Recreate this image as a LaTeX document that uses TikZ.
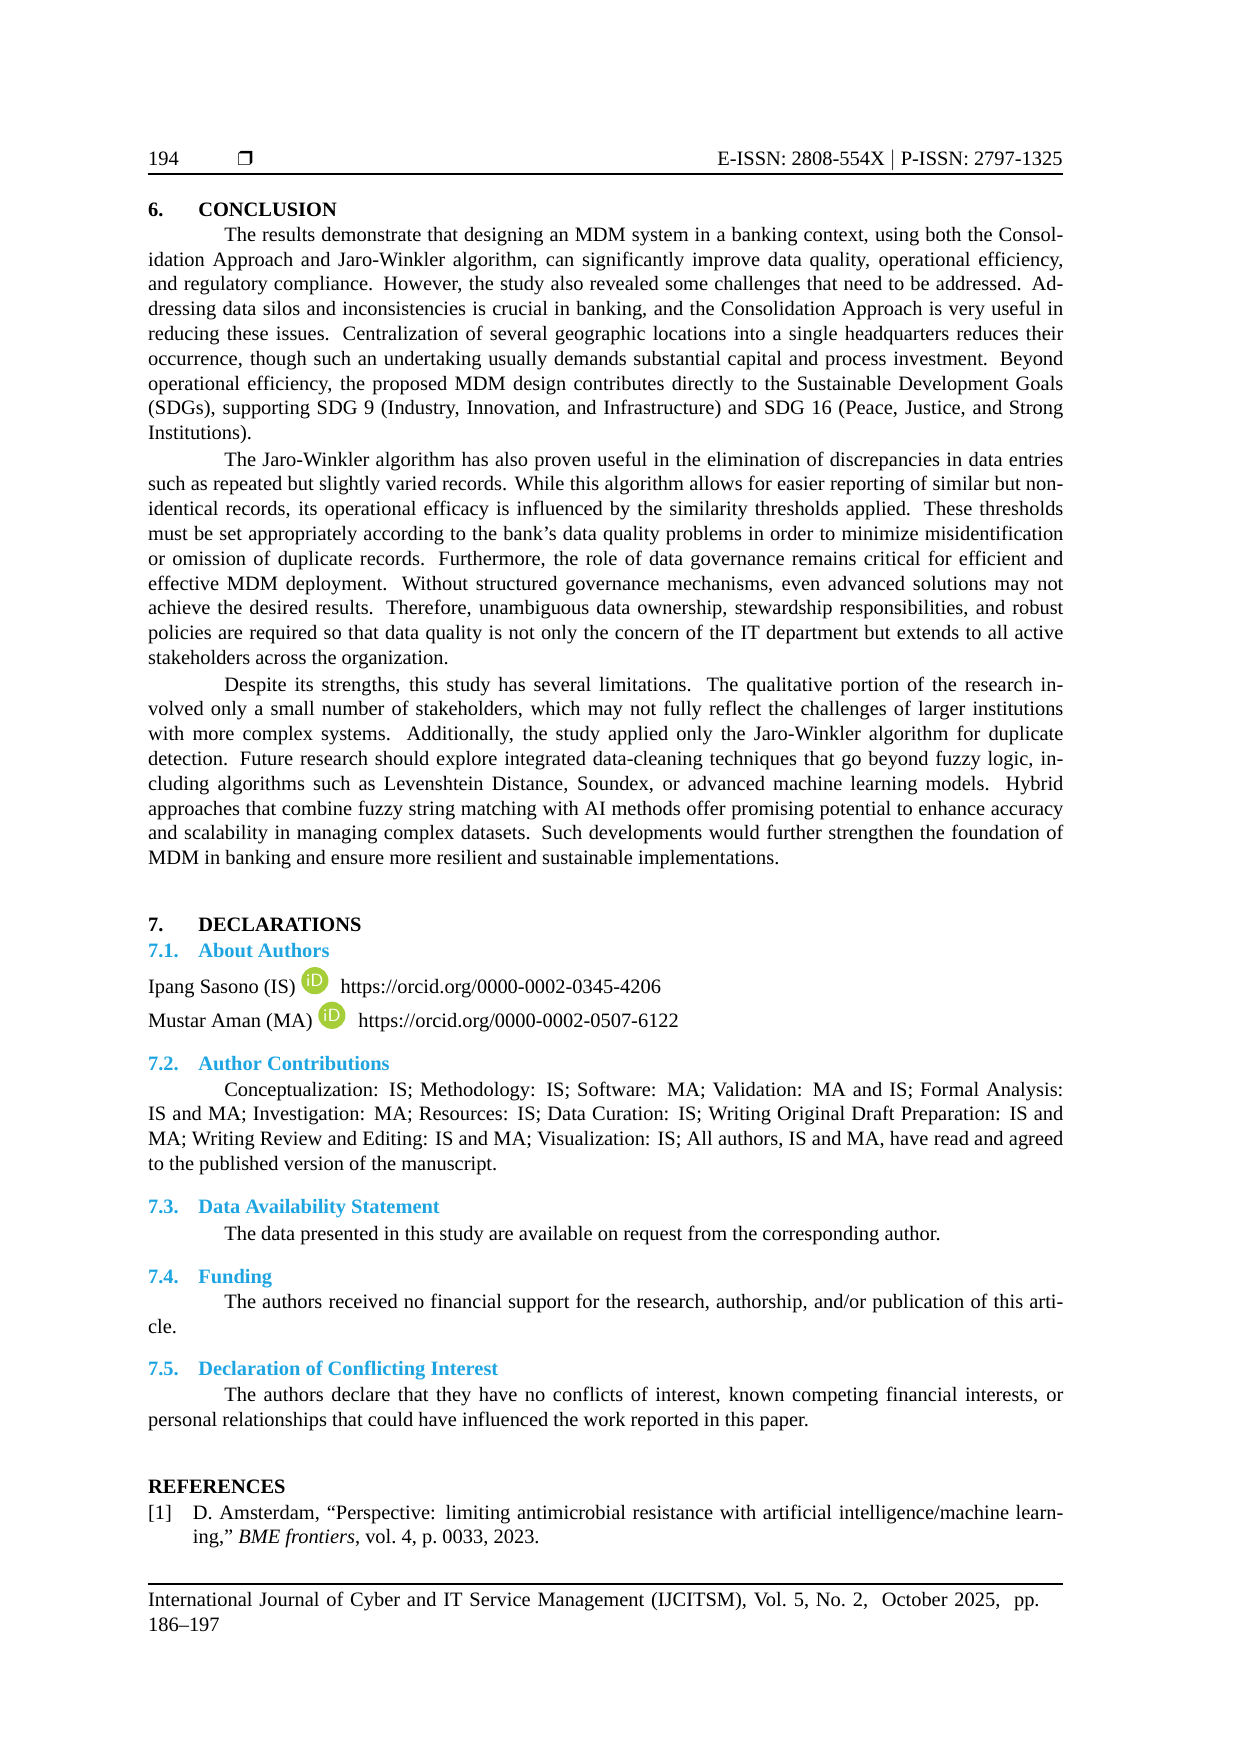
\documentclass[tikz,border=0pt]{standalone}
\usepackage{fontspec}
\setmainfont{Liberation Serif}
\usepackage{pifont}
\usepackage{xcolor}
\usepackage{tikz}
\usetikzlibrary{positioning}
\definecolor{headblue}{RGB}{30,165,225}
\definecolor{orcidgreen}{RGB}{166,206,57}
\newcommand{\bodyfont}{\fontsize{9.85}{11.95}\selectfont\hyphenpenalty=10000\emergencystretch=2em}
\newcommand{\secnum}[1]{\makebox[0.85cm][l]{#1}}
\newcommand{\ind}{\hspace*{1.29cm}}
\tikzset{
  para/.style={anchor=base west, inner sep=0, text width=15.5cm, align=justify, font=\bodyfont},
  line/.style={anchor=base west, inner sep=0, font=\bodyfont},
  sechead/.style={anchor=base west, inner sep=0, font=\bodyfont\bfseries},
  subhead/.style={anchor=base west, inner sep=0, font=\bodyfont\bfseries, text=headblue},
  orcid/.style={circle, fill=orcidgreen, inner sep=0, minimum size=0.46cm, text=white, font=\sffamily\fontsize{8.5}{8.5}\selectfont}
}
\begin{document}
\begin{tikzpicture}
  \useasboundingbox (0,0) rectangle (21cm,-29.706cm);
  \begin{scope}[x=0.018949cm, y=-0.018949cm, yshift=-0.125cm]

  % running head
  \node[line] (pagenum) at (132,141) {194};
  \node[line] (boxmark) at (212,141) {\ding{114}};
  \node[line, anchor=base east] (issn) at (950,141) {E-ISSN: 2808-554X $|$ P-ISSN: 2797-1325};
  \draw[line width=0.8pt] (132,149) -- (950,149);

  % conclusion
  \node[sechead] (conc) at (132,187) {\secnum{6.}CONCLUSION};
  \node[para] (concA) at (132,209) {\ind The results demonstrate that designing an MDM system in a banking context, using both the Consol-\linebreak idation Approach and Jaro-Winkler algorithm, can significantly improve data quality, operational efficiency,\linebreak and regulatory compliance. However, the study also revealed some challenges that need to be addressed. Ad-\linebreak dressing data silos and inconsistencies is crucial in banking, and the Consolidation Approach is very useful in\linebreak reducing these issues. Centralization of several geographic locations into a single headquarters reduces their\linebreak occurrence, though such an undertaking usually demands substantial capital and process investment. Beyond\linebreak operational efficiency, the proposed MDM design contributes directly to the Sustainable Development Goals\linebreak (SDGs), supporting SDG 9 (Industry, Innovation, and Infrastructure) and SDG 16 (Peace, Justice, and Strong\linebreak Institutions).};
  \node[para] (concB) at (132,410) {\ind The Jaro-Winkler algorithm has also proven useful in the elimination of discrepancies in data entries\linebreak such as repeated but slightly varied records. While this algorithm allows for easier reporting of similar but non-\linebreak identical records, its operational efficacy is influenced by the similarity thresholds applied. These thresholds\linebreak must be set appropriately according to the bank's data quality problems in order to minimize misidentification\linebreak or omission of duplicate records. Furthermore, the role of data governance remains critical for efficient and\linebreak effective MDM deployment. Without structured governance mechanisms, even advanced solutions may not\linebreak achieve the desired results. Therefore, unambiguous data ownership, stewardship responsibilities, and robust\linebreak policies are required so that data quality is not only the concern of the IT department but extends to all active\linebreak stakeholders across the organization.};
  \node[para] (concC) at (132,611) {\ind Despite its strengths, this study has several limitations. The qualitative portion of the research in-\linebreak volved only a small number of stakeholders, which may not fully reflect the challenges of larger institutions\linebreak with more complex systems. Additionally, the study applied only the Jaro-Winkler algorithm for duplicate\linebreak detection. Future research should explore integrated data-cleaning techniques that go beyond fuzzy logic, in-\linebreak cluding algorithms such as Levenshtein Distance, Soundex, or advanced machine learning models. Hybrid\linebreak approaches that combine fuzzy string matching with AI methods offer promising potential to enhance accuracy\linebreak and scalability in managing complex datasets. Such developments would further strengthen the foundation of\linebreak MDM in banking and ensure more resilient and sustainable implementations.};

  % declarations
  \node[sechead] (decl) at (132,826) {\secnum{7.}DECLARATIONS};
  \node[subhead] (about) at (132,849) {\secnum{7.1.}About Authors};
  \node[line] (isname) at (132,881) {Ipang Sasono (IS)};
  \node[orcid, right=0.08cm of isname.east, yshift=0.13cm] (isid) {iD};
  \node[line] (isurl) at (304,881) {https://orcid.org/0000-0002-0345-4206};
  \node[line] (maname) at (132,912) {Mustar Aman (MA)};
  \node[orcid, right=0.08cm of maname.east, yshift=0.13cm] (maid) {iD};
  \node[line] (maurl) at (320,912) {https://orcid.org/0000-0002-0507-6122};

  \node[subhead] (contrib) at (132,950) {\secnum{7.2.}Author Contributions};
  \node[para] (contribtext) at (132,973) {\ind Conceptualization: IS; Methodology: IS; Software: MA; Validation: MA and IS; Formal Analysis:\linebreak IS and MA; Investigation: MA; Resources: IS; Data Curation: IS; Writing Original Draft Preparation: IS and\linebreak MA; Writing Review and Editing: IS and MA; Visualization: IS; All authors, IS and MA, have read and agreed\linebreak to the published version of the manuscript.};

  \node[subhead] (avail) at (132,1078) {\secnum{7.3.}Data Availability Statement};
  \node[line] (availtext) at (132,1102) {\ind The data presented in this study are available on request from the corresponding author.};

  \node[subhead] (fund) at (132,1140) {\secnum{7.4.}Funding};
  \node[para] (fundtext) at (132,1163) {\ind The authors received no financial support for the research, authorship, and/or publication of this arti-\linebreak cle.};

  \node[subhead] (conflict) at (132,1223) {\secnum{7.5.}Declaration of Conflicting Interest};
  \node[para] (conflicttext) at (132,1246) {\ind The authors declare that they have no conflicts of interest, known competing financial interests, or\linebreak personal relationships that could have influenced the work reported in this paper.};

  % references
  \node[sechead] (refs) at (132,1328) {REFERENCES};
  \node[line] (refnum) at (132,1351) {[1]};
  \node[para, text width=14.74cm] (reftext) at (172,1351) {D. Amsterdam, ``Perspective: limiting antimicrobial resistance with artificial intelligence/machine learn-\linebreak ing,'' \textit{BME frontiers}, vol.~4, p.~0033, 2023.};

  % running foot
  \draw[line width=0.8pt] (132,1409) -- (950,1409);
  \node[para, align=left] (foot) at (132,1429) {International Journal of Cyber and IT Service Management (IJCITSM), Vol.~5, No.~2, \ October 2025, \ pp.\\ 186--197};
  \end{scope}
\end{tikzpicture}
\end{document}
